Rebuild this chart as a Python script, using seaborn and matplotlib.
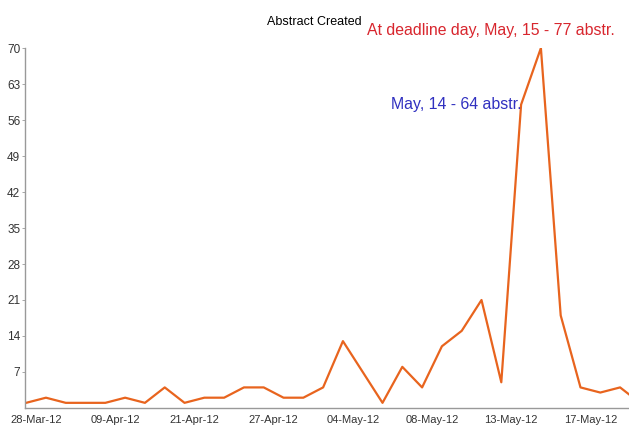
import numpy as np
import pandas as pd
import matplotlib
matplotlib.use("Agg")
import matplotlib.pyplot as plt
import seaborn as sns

# abstracts created per day (only days with submissions)
dates = ["28-Mar-12", "", "", "", "09-Apr-12", "", "", "", "21-Apr-12", "", "", "",
         "27-Apr-12", "", "", "", "04-May-12", "", "", "", "08-May-12", "", "", "",
         "13-May-12", "14-May-12", "15-May-12", "16-May-12", "17-May-12", "", "", ""]
counts = [1, 2, 1, 1, 1, 2, 1, 4, 1, 2, 2, 4, 4, 2, 2, 4,
          13, 7, 1, 8, 4, 12, 15, 21, 5, 59, 70, 18, 4, 3, 4, 1]
y_ticks = [7, 14, 21, 28, 35, 42, 49, 56, 63, 70]

df = pd.DataFrame({"idx": np.arange(len(counts)), "count": counts})

sns.set_style("white")
plt.rcParams["font.family"] = ["Liberation Sans", "DejaVu Sans"]

fig = plt.figure(figsize=(6.29, 4.29), dpi=100)
ax = fig.add_axes([0.040, 0.049, 0.960, 0.839])

sns.lineplot(data=df, x="idx", y="count", color="#e8641e", linewidth=1.6, ax=ax)

ax.set_xlim(-0.05, 30.45)
ax.set_ylim(0, 70)
ax.set_yticks(y_ticks)
ax.set_yticklabels([str(v) for v in y_ticks], fontsize=8.5, color="#333333")
tick_pos = [i + 0.5 for i, d in enumerate(dates) if d and i % 4 == 0]
tick_lab = [d for i, d in enumerate(dates) if d and i % 4 == 0]
ax.set_xticks(tick_pos)
ax.set_xticklabels(tick_lab, fontsize=8, color="#333333")
ax.tick_params(axis="y", length=2.5, width=0.6, color="#999999", pad=1, left=True)
ax.tick_params(axis="x", length=0, pad=5)
ax.set_xlabel("")
ax.set_ylabel("")

for s in ["top", "right"]:
    ax.spines[s].set_visible(False)
for s in ["left", "bottom"]:
    ax.spines[s].set_color("#999999")
    ax.spines[s].set_linewidth(1.0)

fig.text(0.424, 0.948, "Abstract Created", fontsize=9, color="black", ha="left", va="center")
fig.text(0.583, 0.930, "At deadline day, May, 15 - 77 abstr.", fontsize=11.4,
         color="#d8262e", ha="left", va="center")
fig.text(0.622, 0.756, "May, 14 - 64 abstr.", fontsize=11.4,
         color="#3030c0", ha="left", va="center")

fig.savefig("out.png", dpi=100)
